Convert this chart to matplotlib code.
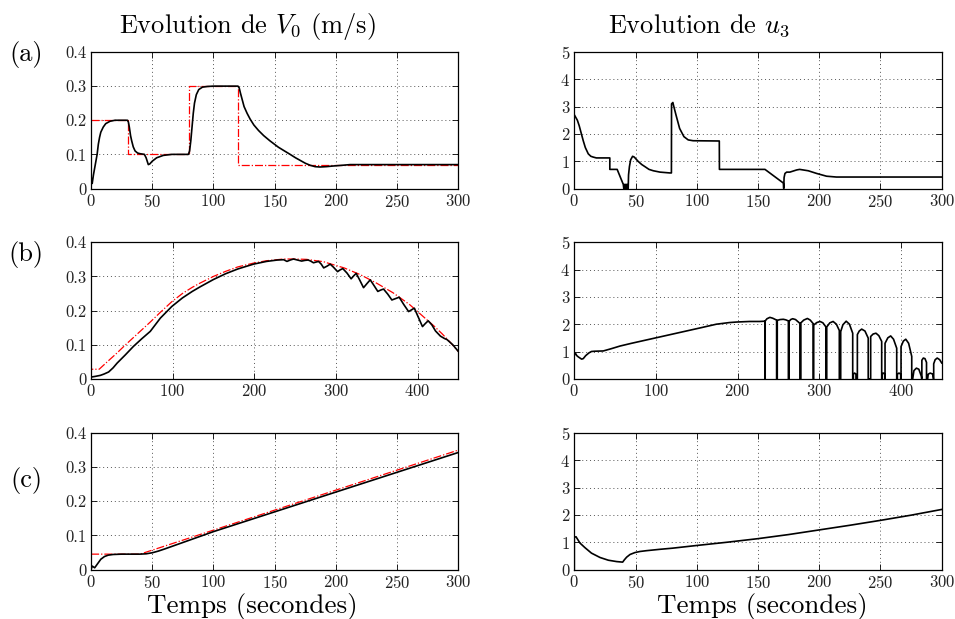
import matplotlib
matplotlib.use('Agg')
import matplotlib.pyplot as plt

plt.rcParams['font.family'] = 'serif'
plt.rcParams['font.serif'] = ['cmr10']
plt.rcParams['mathtext.fontset'] = 'cm'
plt.rcParams['axes.formatter.use_mathtext'] = True

## Data
# (a) step reference
a_ref_t = [0, 30, 30, 80, 80, 120, 120, 300]
a_ref_v = [0.2, 0.2, 0.1, 0.1, 0.3, 0.3, 0.07, 0.07]
a_v0_t = [0, 0.5, 1, 2, 3, 4, 5, 6, 7, 8, 10, 12, 15.5, 19.6, 29.7, 30.5, 31.3, 32.3, 33.2, 34.5, 36, 38, 40, 43.6,
          45, 46.8, 48, 50, 53.6, 59, 66, 79.5, 80.5, 81.5, 82.5, 83.5, 84.5, 86, 88, 91, 95, 100, 120, 121, 122,
          123.5, 125, 127.5, 130, 133, 136.8, 141, 146, 153, 158, 162.6, 167, 171, 175, 179, 183, 187, 192, 198,
          205, 211.6, 300]
a_v0_v = [0, 0.03, 0.015, 0.04, 0.06, 0.08, 0.1, 0.13, 0.15, 0.165, 0.18, 0.19, 0.197, 0.2, 0.2, 0.195, 0.18, 0.155,
          0.14, 0.122, 0.11, 0.104, 0.102, 0.1, 0.09, 0.07, 0.072, 0.08, 0.09, 0.097, 0.1, 0.1, 0.11, 0.14, 0.18,
          0.22, 0.25, 0.275, 0.29, 0.297, 0.299, 0.3, 0.3, 0.295, 0.28, 0.26, 0.24, 0.22, 0.203, 0.186, 0.17, 0.155,
          0.14, 0.121, 0.11, 0.1, 0.09, 0.082, 0.074, 0.068, 0.064, 0.063, 0.064, 0.066, 0.068, 0.07, 0.07]
a_u3_t = [0, 2.5, 4, 5.5, 7.3, 9, 11.4, 13.5, 15.5, 18, 29, 29, 35, 40, 40.4, 40.8, 41.2, 41.6, 42, 42.4, 42.8, 43.2,
          43.6, 44, 44.3, 45, 46, 47.6, 49, 52, 55, 57.7, 61, 64.5, 70, 78, 79.3, 79.4, 80.5, 81, 83, 86, 89.5, 93, 97,
          118.4, 118.5, 155.7, 170.7, 171, 171.3, 172, 173.4, 176, 181.6, 184, 191, 198, 206, 214, 300]
a_u3_v = [2.7, 2.5, 2.3, 2.05, 1.75, 1.5, 1.27, 1.18, 1.15, 1.12, 1.12, 0.7, 0.7, 0.15, 0.0, 0.15, 0.0, 0.15, 0.0,
          0.15, 0.0, 0.15, 0.0, 0.0, 0.5, 0.8, 1.05, 1.18, 1.15, 1.0, 0.88, 0.8, 0.7, 0.65, 0.6, 0.57, 0.57, 3.1,
          3.15, 3.05, 2.7, 2.2, 1.9, 1.78, 1.75, 1.74, 0.7, 0.7, 0.2, 0.0, 0.4, 0.55, 0.6, 0.6, 0.68, 0.7, 0.65,
          0.55, 0.45, 0.42, 0.42]

# (b) smooth reference
b_ref_t = [0, 0, 10, 20, 32, 42, 52, 62, 72, 85, 99, 112, 124, 134, 150, 165, 180, 199, 215, 236, 250, 264, 285, 293,
           310, 330, 350, 370, 390, 409, 420, 430, 440, 450]
b_ref_v = [0.2, 0.028, 0.028, 0.05, 0.076, 0.099, 0.121, 0.143, 0.165, 0.195, 0.226, 0.25, 0.268, 0.281, 0.3,
           0.315, 0.328, 0.339, 0.346, 0.351, 0.351, 0.35, 0.343, 0.337, 0.325, 0.305, 0.28, 0.252, 0.218, 0.178,
           0.155, 0.132, 0.107, 0.08]
b_v0_t = [0, 5, 11.4, 16, 21.6, 27, 32, 42, 52, 62, 72.6, 85, 99, 112, 124, 134, 150, 165, 180, 199, 215, 228, 236,
          240, 244, 248, 253, 258, 262, 266, 269, 272.5, 275.5, 278.7, 282, 285, 289, 293, 297, 302, 305, 308.4,
          313.5, 318.6, 321.5, 324.8, 329, 333.8, 338, 342, 347, 351.3, 354.8, 358.3, 363.5, 368.5, 373, 377.5, 383,
          389, 392.5, 396, 401, 406, 409.5, 413, 417.5, 422, 428, 433, 436, 443, 450]
b_v0_v = [0.005, 0.007, 0.01, 0.014, 0.02, 0.032, 0.046, 0.07, 0.095, 0.117, 0.139, 0.178, 0.212, 0.237, 0.256, 0.27,
          0.291, 0.308, 0.322, 0.336, 0.344, 0.348, 0.349, 0.344, 0.348, 0.351, 0.348, 0.345, 0.347, 0.348, 0.345,
          0.34, 0.342, 0.344, 0.336, 0.325, 0.33, 0.336, 0.327, 0.314, 0.319, 0.323, 0.31, 0.293, 0.301, 0.309,
          0.29, 0.267, 0.279, 0.29, 0.272, 0.256, 0.26, 0.263, 0.248, 0.231, 0.235, 0.239, 0.218, 0.197, 0.202,
          0.207, 0.18, 0.153, 0.162, 0.17, 0.158, 0.14, 0.125, 0.118, 0.115, 0.1, 0.08]
b_u3_t = [0, 0.5, 1.5, 3, 5, 7, 9, 11, 14, 18, 21, 25, 35.5, 45, 56, 70, 85, 100, 120, 137.6, 155, 174, 190, 199,
          215, 227, 233.5,
          233.6, 233.8, 233.8, 236, 239.5, 243, 247.8, 247.8,
          248.6, 248.6, 252, 256, 259, 262.2, 262.2,
          263, 263, 265, 267.5, 271, 276.3, 276.3,
          277.5, 277.5, 281, 285.5, 289, 292.6, 292.6,
          293.2, 293.2, 297, 301, 304.5, 308.2, 308.2,
          309.2, 309.2, 313, 317, 321, 324.6, 324.6,
          326.3, 326.3, 329, 333, 337, 341, 341,
          341.8, 341.8, 343.3, 345, 345,
          346.7, 346.7, 349, 352, 356, 360, 360,
          363, 363, 366, 369.5, 373, 376.5, 376.5,
          376.9, 376.9, 378.5, 380.2, 380.2,
          380.6, 380.6, 384, 387.5, 391, 394.9, 394.9,
          395.7, 395.7, 397.7, 399.8, 399.8,
          400.2, 400.2, 403, 406, 409.5, 413.3, 413.3,
          414.5, 416, 419, 422, 425, 425.5,
          425.7, 425.7, 427.5, 429.5, 431.4, 431.4,
          432.8, 433.5, 436, 439, 439.8,
          440.2, 440.2, 442, 444.5, 447.5, 450]
b_u3_v = [0.95, 0.88, 0.93, 0.85, 0.8, 0.76, 0.72, 0.74, 0.85, 0.95, 1.0, 1.01, 1.02, 1.1, 1.2, 1.3, 1.4, 1.5, 1.63,
          1.75, 1.87, 2.0, 2.06, 2.08, 2.1, 2.1, 2.11,
          0, 0, 2.12, 2.2, 2.25, 2.22, 2.15, 0,
          0, 2.14, 2.17, 2.18, 2.16, 2.12, 0,
          0, 2.1, 2.17, 2.2, 2.17, 2.03, 0,
          0, 2.05, 2.15, 2.21, 2.15, 2.02, 0,
          0, 1.97, 2.06, 2.1, 2.05, 1.9, 0,
          0, 1.9, 2.05, 2.1, 2.0, 1.77, 0,
          0, 1.73, 1.98, 2.11, 2.0, 1.67, 0,
          0, 0.17, 0.21, 0.17, 0,
          0, 1.62, 1.75, 1.82, 1.75, 1.49, 0,
          0, 1.55, 1.64, 1.67, 1.58, 1.37, 0,
          0, 0.17, 0.21, 0.17, 0,
          0, 1.3, 1.5, 1.57, 1.45, 1.12, 0,
          0, 0.17, 0.21, 0.17, 0,
          0, 1.18, 1.38, 1.45, 1.3, 0.82, 0,
          0, 0.3, 0.39, 0.35, 0.1, 0,
          0, 0.68, 0.76, 0.74, 0.6, 0,
          0, 0.17, 0.21, 0.17, 0,
          0, 0.55, 0.7, 0.76, 0.7, 0.58]

# (c) ramp reference
c_ref_t = [0, 0, 40, 300]
c_ref_v = [0.2, 0.045, 0.045, 0.35]
c_v0_t = [0, 1, 3, 6, 8, 11, 14, 18, 25, 40, 45, 50, 55, 60, 100, 300]
c_v0_v = [0, 0.01, 0.005, 0.02, 0.03, 0.038, 0.042, 0.044, 0.045, 0.045, 0.046, 0.049, 0.054, 0.06, 0.111, 0.343]
c_u3_t = [0, 0, 1.4, 2.5, 4.6, 8.7, 14, 21, 27.8, 34.6, 39.5, 40.8, 42.7, 45.5, 49.5, 53.6, 59, 70, 80, 100, 125, 150,
          175, 200, 225, 250, 275, 300]
c_u3_v = [0, 1.18, 1.2, 1.12, 0.97, 0.8, 0.6, 0.44, 0.34, 0.29, 0.27, 0.35, 0.45, 0.55, 0.62, 0.66, 0.69, 0.74,
          0.78, 0.88, 1.0, 1.13, 1.28, 1.45, 1.62, 1.8, 1.99, 2.2]

v0_ticks = [0, 0.1, 0.2, 0.3, 0.4]
v0_labels = ['0', '0.1', '0.2', '0.3', '0.4']
u3_ticks = [0, 1, 2, 3, 4, 5]
t_ticks_300 = [0, 50, 100, 150, 200, 250, 300]
t_ticks_450 = [0, 100, 200, 300, 400]

rows = [
    ('(a)', a_ref_t, a_ref_v, a_v0_t, a_v0_v, a_u3_t, a_u3_v, 300, t_ticks_300),
    ('(b)', b_ref_t, b_ref_v, b_v0_t, b_v0_v, b_u3_t, b_u3_v, 450, t_ticks_450),
    ('(c)', c_ref_t, c_ref_v, c_v0_t, c_v0_v, c_u3_t, c_u3_v, 300, t_ticks_300),
]

fig = plt.figure(figsize=(9.55, 6.19), dpi=100)
W, H = 955.0, 619.0
row_top = [52, 242.3, 433]
ax_h = 136.5
col_left = [91, 574.3]
ax_w = 367.4
label_y = [54, 254, 481]


def style(ax, xmax, xt, yt, ylab=None):
    ax.set_xlim(0, xmax)
    ax.set_xticks(xt)
    ax.set_yticks(yt)
    if ylab is not None:
        ax.set_yticklabels(ylab)
    ax.set_ylim(yt[0], yt[-1])
    ax.grid(True, linestyle=(0, (1, 3)), color='#555555', linewidth=0.7)
    ax.tick_params(direction='in', length=4, width=0.6, top=True, right=True,
                   labelsize=12, labelcolor='#222222', pad=3)
    for s in ax.spines.values():
        s.set_linewidth(0.9)


for i, (lab, rt, rv, vt, vv, ut, uv, xmax, xt) in enumerate(rows):
    y0 = 1 - (row_top[i] + ax_h) / H
    ax1 = fig.add_axes([col_left[0] / W, y0, ax_w / W, ax_h / H])
    ax1.plot(rt, rv, color='red', linestyle='-.', linewidth=0.9)
    ax1.plot(vt, vv, color='black', linewidth=1.2)
    style(ax1, xmax, xt, v0_ticks, v0_labels)

    ax2 = fig.add_axes([col_left[1] / W, y0, ax_w / W, ax_h / H])
    ax2.plot(ut, uv, color='black', linewidth=1.2)
    style(ax2, xmax, xt, u3_ticks)

    fig.text(26 / W, 1 - label_y[i] / H, lab, fontsize=19, ha='center', va='center')

fig.text(247 / W, 1 - 27 / H, r'Evolution de $V_0$ (m/s)', fontsize=19, ha='center', va='center')
fig.text(699 / W, 1 - 26 / H, r'Evolution de $u_3$', fontsize=19, ha='center', va='center')
fig.text(252 / W, 1 - 607 / H, 'Temps (secondes)', fontsize=19.5, ha='center', va='center')
fig.text(762 / W, 1 - 607 / H, 'Temps (secondes)', fontsize=19.5, ha='center', va='center')

fig.savefig('out.png', dpi=100)
